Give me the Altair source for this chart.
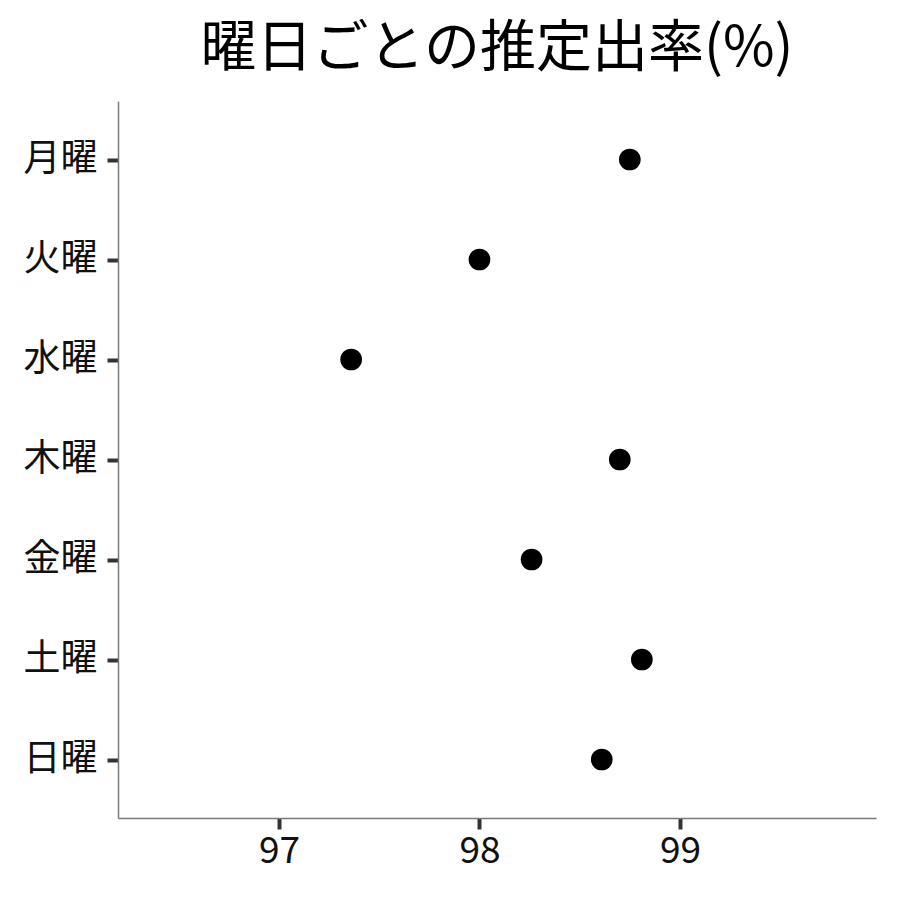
import altair as alt
import pandas as pd

days = ["月曜", "火曜", "水曜", "木曜", "金曜", "土曜", "日曜"]
rates = [98.75, 98.0, 97.36, 98.70, 98.26, 98.81, 98.61]
x_ticks = [97, 98, 99]
x_domain = [96.197, 99.978]

df = pd.DataFrame({"day": days, "rate": rates})

FONT = "Noto Sans CJK JP"

chart = alt.Chart(df).mark_point(
    filled=True, color="black", size=470, opacity=1, shape="circle"
).encode(
    x=alt.X("rate:Q",
            scale=alt.Scale(domain=x_domain, nice=False, zero=False),
            axis=alt.Axis(values=x_ticks, title=None, grid=False, format="d",
                          labelFontSize=37, labelFont=FONT, labelColor="#111111",
                          tickSize=11, tickWidth=4, tickColor="#333333",
                          domainColor="#7a7a7a", domainWidth=1.5,
                          labelPadding=4)),
    y=alt.Y("day:N", sort=days,
            scale=alt.Scale(type="point", padding=0.585),
            axis=alt.Axis(title=None, grid=False,
                          labelFontSize=37, labelFont=FONT, labelColor="#111111",
                          tickSize=11, tickWidth=4, tickColor="#333333",
                          domainColor="#7a7a7a", domainWidth=1.5,
                          labelPadding=10)),
).properties(
    width=758,
    height=717,
    title=alt.TitleParams("曜日ごとの推定出率(%)", font=FONT, fontSize=56,
                          fontWeight="normal", color="black",
                          anchor="middle", frame="group", offset=23),
    autosize=alt.AutoSizeParams(type="none"),
    padding={"left": 110, "top": 93, "right": 16, "bottom": 74},
).configure_view(stroke=None)

chart.save("out.html", embed_options={"renderer": "svg", "actions": False})
